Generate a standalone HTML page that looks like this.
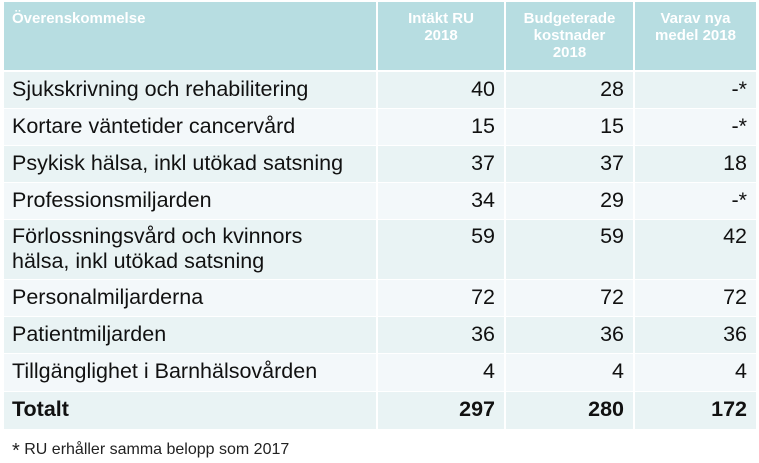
<!DOCTYPE html>
<html><head><meta charset="utf-8"><style>
body{margin:0;width:759px;height:461px;background:#fff;position:relative;overflow:hidden;font-family:"Liberation Sans",Arial,sans-serif;}
.c{position:absolute;box-sizing:border-box;color:#111;font-size:21.5px;line-height:26px;}
.h{background:#b7dde1;color:#fff;font-weight:bold;font-size:15px;line-height:17px;padding-top:8px;}
.n{text-align:right;}
.foot{position:absolute;left:12px;top:440px;font-size:16px;color:#222;}
</style></head><body>
<div id="tbl"></div>
<div class="foot"><span style="font-size:20px;vertical-align:-3px">*</span> RU erhåller samma belopp som 2017</div>
<script>
const labels=["Sjukskrivning och rehabilitering","Kortare väntetider cancervård","Psykisk hälsa, inkl utökad satsning","Professionsmiljarden","Förlossningsvård och kvinnors<br>hälsa, inkl utökad satsning","Personalmiljarderna","Patientmiljarden","Tillgänglighet i Barnhälsovården","Totalt"];
const incomeRU=["40","15","37","34","59","72","36","4","297"];
const budgetCost=["28","15","37","29","59","72","36","4","280"];
const newFunds=["-*","-*","18","-*","42","72","36","4","172"];
const headers=["Överenskommelse","Intäkt RU<br>2018","Budgeterade<br>kostnader<br>2018","Varav nya<br>medel 2018"];
const colX=[4,378,506,635],colW=[372,126,127,121];
const rowY=[72,109,146,183,220,280,317,354,392],rowH=[36,36,36,36,59,36,36,37,37];
const tbl=document.getElementById('tbl');
function cell(x,y,w,h,html,cls,name){const d=document.createElement('div');d.className='c '+cls;d.style.left=x+'px';d.style.top=y+'px';d.style.width=w+'px';d.style.height=h+'px';d.innerHTML=html;


tbl.appendChild(d);return d;}
headers.forEach((t,i)=>{const d=cell(colX[i],2,colW[i],68,t,'h','header-cell');d.style.textAlign=i?'center':'left';if(!i)d.style.paddingLeft='8px';});
labels.forEach((l,r)=>{const bg=r%2?'#f3f8fa':'#e9f3f4';const tot=r===8;
const vals=[l,incomeRU[r],budgetCost[r],newFunds[r]];
vals.forEach((v,i)=>{const d=cell(colX[i],rowY[r],colW[i],rowH[r],v,i?'n':'',i?'value-cell':'label-cell');d.style.background=bg;d.style.paddingTop='4px';d.style.lineHeight=(r===4?'25px':'26px');
if(i)d.style.paddingRight='9px';else d.style.paddingLeft='8px';if(tot)d.style.fontWeight='bold';});});
</script>
</body></html>
